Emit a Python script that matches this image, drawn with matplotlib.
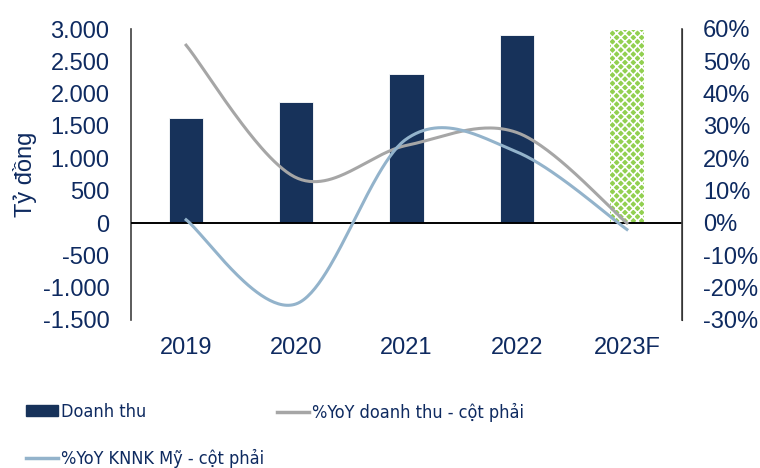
import numpy as np
import matplotlib
matplotlib.use("Agg")
import matplotlib.pyplot as plt
from matplotlib.lines import Line2D
from matplotlib.patches import Patch
from matplotlib import font_manager

plt.rcParams['font.family'] = ['Liberation Sans', 'DejaVu Sans']
plt.rcParams['hatch.linewidth'] = 1.2

years = ['2019', '2020', '2021', '2022', '2023F']
revenue = [1630, 1870, 2300, 2910, 2990]
yoy_revenue = [55, 14, 24, 28, 0]
yoy_knnk = [1, -25, 26, 22, -2]

navy = '#0E2A60'
bar_col = '#17325A'
green = '#92D050'
gray_line = '#A6A6A6'
blue_line = '#93B3CB'

names = {f.name for f in font_manager.fontManager.ttflist}
narrow = 'Liberation Sans Narrow' if 'Liberation Sans Narrow' in names else None

def excel_smooth(xs, ys, n=60):
    xs = np.asarray(xs, float); ys = np.asarray(ys, float)
    P = np.column_stack([xs, ys])
    Pext = np.vstack([P[0], P, P[-1]])
    out = []
    for i in range(len(P) - 1):
        p0, p1, p2, p3 = Pext[i], Pext[i + 1], Pext[i + 2], Pext[i + 3]
        c1 = p1 + (p2 - p0) / 6.0
        c2 = p2 - (p3 - p1) / 6.0
        t = np.linspace(0, 1, n)[:, None]
        seg = (1 - t) ** 3 * p1 + 3 * (1 - t) ** 2 * t * c1 + 3 * (1 - t) * t ** 2 * c2 + t ** 3 * p2
        out.append(seg if i == 0 else seg[1:])
    out = np.vstack(out)
    return out[:, 0], out[:, 1]

fig = plt.figure(figsize=(7.6, 4.68), dpi=100)
ax = fig.add_axes([131 / 760, 1 - 320 / 468, (682 - 131) / 760, (320 - 29) / 468])
x = np.arange(len(years))

colors = [bar_col] * 4 + [green]
bars = ax.bar(x, revenue, width=0.31, color=colors, edgecolor='white', linewidth=0.6, zorder=2)
bars[-1].set_hatch('xxxx')
bars[-1].set_edgecolor('white')
bars[-1].set_linewidth(0)

ax.set_xlim(-0.5, 4.5)
ax.set_ylim(-1500, 3000)
ax.set_yticks(np.arange(-1500, 3001, 500))
ax.set_yticklabels([f"{v:,}".replace(',', '.') for v in np.arange(-1500, 3001, 500)])
ax.axhline(0, color='black', linewidth=1.4, zorder=3)
ax.set_xticks(x)
ax.set_xticklabels(years)
ax.tick_params(axis='x', length=0, pad=12, labelsize=17, labelcolor=navy)
ax.tick_params(axis='y', length=0, pad=15.5, labelsize=17, labelcolor=navy)
ax.set_ylabel('Tỷ đồng', fontsize=17, color=navy, labelpad=4)
for s in ['top', 'bottom']:
    ax.spines[s].set_visible(False)
ax.spines['left'].set_color('#404040')
ax.spines['left'].set_linewidth(1.2)

ax2 = ax.twinx()
ax2.set_ylim(-30, 60)
ax2.set_yticks(np.arange(-30, 61, 10))
ax2.set_yticklabels([f"{v}%" for v in np.arange(-30, 61, 10)])
ax2.tick_params(axis='y', length=0, pad=15, labelsize=17, labelcolor=navy)
for s in ['top', 'bottom', 'left']:
    ax2.spines[s].set_visible(False)
ax2.spines['right'].set_color('#404040')
ax2.spines['right'].set_linewidth(1.2)

gx, gy = excel_smooth(x, yoy_revenue)
bx, by = excel_smooth(x, yoy_knnk)
ax2.plot(gx, gy, color=gray_line, linewidth=2.2, zorder=4)
ax2.plot(bx, by, color=blue_line, linewidth=2.2, zorder=5)

if narrow:
    leg_font = dict(family=[narrow, 'DejaVu Sans'], size=16)
else:
    leg_font = dict(family=['DejaVu Sans'], stretch='condensed', size=13)

h_bar = Patch(facecolor=bar_col, edgecolor=bar_col)
h_gray = Line2D([], [], color=gray_line, linewidth=2.5)
h_blue = Line2D([], [], color=blue_line, linewidth=2.5)
common = dict(frameon=False, prop=leg_font, handlelength=1.75, handletextpad=0.2,
              labelcolor=navy, borderaxespad=0, borderpad=0, handleheight=0.6)
leg1 = fig.legend([h_bar, h_blue], ['Doanh thu', '%YoY KNNK Mỹ - cột phải'],
                  loc='upper left', bbox_to_anchor=(26 / 760, 1 - 403 / 468),
                  labelspacing=1.55, **common)
leg2 = fig.legend([h_gray], ['%YoY doanh thu - cột phải'],
                  loc='upper left', bbox_to_anchor=(277 / 760, 1 - 403 / 468), **common)

fig.savefig('out.png', dpi=100)
